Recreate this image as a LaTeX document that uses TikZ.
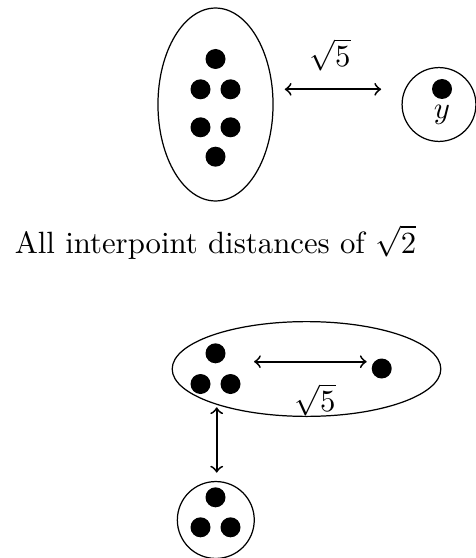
\documentclass[tikz,border=0pt]{standalone}
\usetikzlibrary{shapes.geometric}

\tikzset{
  pt/.style={circle, fill=black, inner sep=0pt, minimum size=6.5pt},
  blob/.style={ellipse, draw, inner sep=0pt},
  ring/.style={circle, draw, inner sep=0pt},
  dist/.style={<->, semithick},
}

\begin{document}
\begin{tikzpicture}[x=0.325pt, y=-0.325pt, >=to]
\useasboundingbox (0,0) rectangle (475,558);
%% ---- Cluster of six and the far point y ----
\node[blob, minimum width=37.4pt, minimum height=62.7pt] (clusterA) at (215.5,104.5) {};
\foreach \n/\x/\y in {a1/215.5/59, a2/200.5/89.3, a3/230.5/89.3,
                      a4/200.5/127.3, a5/230.5/127.3, a6/215.5/156.7}
  \node[pt] (\n) at (\x,\y) {};
\node[ring, minimum size=24pt] (farY) at (439,104.5) {};
\node[pt] (y0) at (442,89) {};
\node (ylbl) at (442,115) {$y$};
\draw[dist, shorten <=3.6pt, shorten >=6.6pt] (clusterA.east |- a3) -- (farY.west |- a3);
\node (distA) at (330,55) {$\sqrt{5}$};
%% ---- Caption ----
\node[anchor=base] (caption) at (215.5,253) {All interpoint distances of $\sqrt{2}$};
%% ---- Cluster of four and the triangle ----
\node[blob, minimum width=87.3pt, minimum height=30.8pt] (clusterB) at (306.5,369) {};
\foreach \n/\x/\y in {b1/215.5/353.3, b2/200.5/384, b3/230.5/384, b4/381.7/368.5}
  \node[pt] (\n) at (\x,\y) {};
\coordinate (hL) at (254,361.7);
\coordinate (hR) at (366.7,361.7);
\draw[dist] (hL) -- (hR);
\node (distB) at (315,400) {$\sqrt{5}$};
\node[ring, minimum size=25pt] (groupC) at (215.8,520) {};
\foreach \n/\x/\y in {c1/215.5/497.3, c2/200.5/527.3, c3/230.5/527.3}
  \node[pt] (\n) at (\x,\y) {};
\coordinate (vT) at (216.7,407.3);
\draw[dist, shorten >=2.7pt] (vT) -- (vT |- groupC.north);
\end{tikzpicture}
\end{document}
